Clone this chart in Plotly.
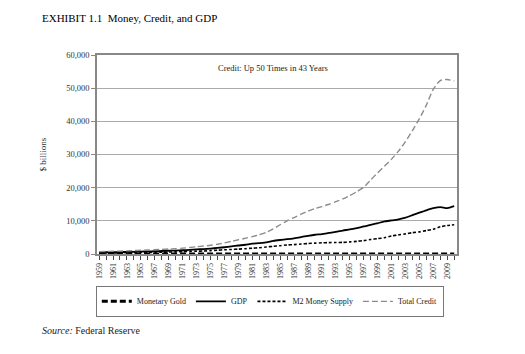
import plotly.graph_objects as go

years = list(range(1959, 2011))

monetary_gold = [20, 18, 17, 16, 15, 14, 14, 13, 12, 11, 11, 11, 10, 10, 11, 11, 11, 11, 11, 11, 11, 11, 11, 11, 11, 11, 11, 11, 11, 11, 11, 11, 11, 11, 11, 11, 11, 11, 11, 11, 11, 11, 11, 11, 11, 11, 11, 11, 11, 11, 11, 11]

gdp = [506, 526, 545, 586, 618, 664, 719, 788, 833, 910, 985, 1039, 1127, 1238, 1383, 1500,
       1638, 1825, 2031, 2295, 2563, 2790, 3128, 3255, 3537, 3933, 4220, 4463, 4740, 5104,
       5484, 5803, 5996, 6338, 6657, 7072, 7398, 7817, 8304, 8747, 9268, 9817, 10128, 10470,
       10961, 11713, 12456, 13178, 13808, 14150, 13850, 14450]

m2 = [297, 312, 335, 362, 393, 424, 460, 480, 525, 567, 588, 627, 710, 802, 856, 902,
      1016, 1152, 1270, 1366, 1474, 1600, 1756, 1906, 2124, 2307, 2494, 2731, 2830, 2994,
      3156, 3278, 3377, 3430, 3482, 3498, 3642, 3820, 4033, 4375, 4638, 4925, 5433, 5772,
      6067, 6418, 6681, 7071, 7471, 8191, 8600, 8800]

total_credit = [720, 770, 820, 880, 950, 1030, 1110, 1190, 1280, 1390, 1500, 1600, 1760, 1950,
                2180, 2400, 2620, 2930, 3330, 3800, 4290, 4730, 5240, 5800, 6520, 7550, 8820,
                10000, 11000, 12000, 12900, 13700, 14300, 15000, 15800, 16600, 17600, 18800,
                20100, 22300, 24500, 26500, 28600, 31000, 33900, 37200, 40800, 44900, 49700,
                52300, 52600, 52200]

y_ticks = [0, 10000, 20000, 30000, 40000, 50000, 60000]
x_labels = [str(y) if y % 2 == 1 else "" for y in years]

SERIF = "Liberation Serif"

fig = go.Figure()
fig.add_trace(go.Scatter(x=years, y=monetary_gold, name="Monetary Gold", mode="lines",
                         line=dict(color="black", width=3, dash="6px,3px")))
fig.add_trace(go.Scatter(x=years, y=gdp, name="GDP", mode="lines",
                         line=dict(color="black", width=1.8, shape="spline", smoothing=0.6)))
fig.add_trace(go.Scatter(x=years, y=m2, name="M2 Money Supply", mode="lines",
                         line=dict(color="black", width=1.6, dash="3px,2px", shape="spline", smoothing=0.6)))
fig.add_trace(go.Scatter(x=years, y=total_credit, name="Total Credit", mode="lines",
                         line=dict(color="#8c8c8c", width=1.4, dash="6px,3px", shape="spline", smoothing=0.6)))

fig.update_layout(
    width=525, height=354,
    margin=dict(l=97, r=68, t=55, b=100),
    paper_bgcolor="white", plot_bgcolor="white",
    font=dict(family=SERIF, color="#222", size=8),
    showlegend=True,
    legend=dict(orientation="h", x=0.48, xanchor="center", y=-0.16, yanchor="top",
                bordercolor="#777", borderwidth=1, font=dict(family=SERIF, size=8, color="#222"),
                itemwidth=30, tracegroupgap=0),
    xaxis=dict(range=[1958.7, 2010.4], tickmode="array", tickvals=years, ticktext=x_labels,
               tickangle=-90, ticks="outside", ticklen=4, tickcolor="#444",
               showgrid=False, zeroline=False, showline=True, linecolor="#888", linewidth=1.5, mirror=True,
               tickfont=dict(family=SERIF, size=8, color="#333")),
    yaxis=dict(range=[0, 60000], tickvals=y_ticks, tickformat=",d",
               ticks="outside", ticklen=4, tickcolor="#888",
               showgrid=True, gridcolor="#aaa", gridwidth=1, zeroline=False,
               showline=True, linecolor="#888", linewidth=1.5, mirror=True,
               title=dict(text="$ billions", font=dict(family=SERIF, size=9, color="#333"), standoff=18),
               tickfont=dict(family=SERIF, size=8.5, color="#333")),
    annotations=[
        dict(text="EXHIBIT 1.1  Money, Credit, and GDP", xref="paper", yref="paper",
             x=-0.157, y=1.185, xanchor="left", yanchor="middle", showarrow=False,
             font=dict(family=SERIF, size=11, color="#000")),
        dict(text="Credit: Up 50 Times in 43 Years", xref="paper", yref="paper",
             x=0.49, y=0.935, xanchor="center", yanchor="middle", showarrow=False,
             font=dict(family=SERIF, size=8.5, color="#222")),
        dict(text="<i>Source:</i> Federal Reserve", xref="paper", yref="paper",
             x=-0.157, y=-0.385, xanchor="left", yanchor="middle", showarrow=False,
             font=dict(family=SERIF, size=10, color="#222")),
    ],
)

fig.write_html("out.html")
